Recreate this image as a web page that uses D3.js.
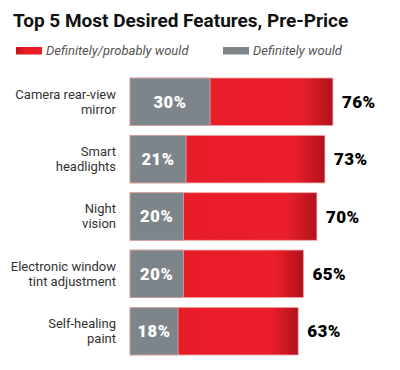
<!DOCTYPE html>
<html>
<head>
<meta charset="utf-8">
<script src="https://cdn.jsdelivr.net/npm/d3@7"></script>
<style>
  body { margin: 0; background: #fff; }
  svg { display: block; font-family: Roboto, "Noto Sans", sans-serif; }
</style>
</head>
<body>
<svg id="chart" width="400" height="370"></svg>
<script>
// data
const features = [
  ["Camera rear-view", "mirror"],
  ["Smart", "headlights"],
  ["Night", "vision"],
  ["Electronic window", "tint adjustment"],
  ["Self-healing", "paint"]
];
const probablyWould = [76, 73, 70, 65, 63];
const definitelyWould = [30, 21, 20, 20, 18];
const legendLabels = ["Definitely/probably would", "Definitely would"];

const svg = d3.select("#chart");
const defs = svg.append("defs");

const grad = defs.append("linearGradient").attr("id", "redGrad")
  .attr("x1", "0%").attr("x2", "100%").attr("y1", "0%").attr("y2", "0%");
grad.append("stop").attr("offset", "0%").attr("stop-color", "#e81b27");
grad.append("stop").attr("offset", "84%").attr("stop-color", "#ea1f2a");
grad.append("stop").attr("offset", "100%").attr("stop-color", "#b0121c");

const legGrad = defs.append("linearGradient").attr("id", "legGrad")
  .attr("x1", "0%").attr("x2", "100%");
legGrad.append("stop").attr("offset", "0%").attr("stop-color", "#c0141f");
legGrad.append("stop").attr("offset", "40%").attr("stop-color", "#ec1c27");
legGrad.append("stop").attr("offset", "100%").attr("stop-color", "#ec1c27");

const gray = "#7d858a";

// title
svg.append("text")
  .attr("x", 13).attr("y", 27)
  .attr("font-size", 19).attr("font-weight", "bold")
  .attr("fill", "#111")
  .text("Top 5 Most Desired Features, Pre-Price");

// legend
const legend = svg.selectAll("g.leg")
  .data(legendLabels)
  .enter().append("g")
  .attr("class", "leg")
  .attr("transform", (d, i) => "translate(" + (i === 0 ? 16 : 223) + ",47)");
legend.append("rect")
  .attr("width", 26).attr("height", 7.5)
  .attr("fill", (d, i) => i === 0 ? "url(#legGrad)" : gray);
legend.append("text")
  .attr("x", 30).attr("y", 8)
  .attr("font-size", 13).attr("font-style", "italic")
  .attr("fill", "#555")
  .text(d => d);

// scales
const x = d3.scaleLinear().domain([0, 100]).range([130, 397]);
const y = d3.scaleBand()
  .domain(d3.range(features.length))
  .range([78, 355])
  .paddingInner(0.17)
  .paddingOuter(0);

const rows = svg.selectAll("g.row")
  .data(features)
  .enter().append("g")
  .attr("class", "row");

rows.append("rect")
  .attr("x", x(0))
  .attr("y", (d, i) => y(i))
  .attr("width", (d, i) => x(probablyWould[i]) - x(0))
  .attr("height", y.bandwidth())
  .attr("fill", "url(#redGrad)")
  .attr("stroke", "#f0a8a8").attr("stroke-width", 0.8);

rows.append("rect")
  .attr("x", x(0))
  .attr("y", (d, i) => y(i))
  .attr("width", (d, i) => x(definitelyWould[i]) - x(0))
  .attr("height", y.bandwidth())
  .attr("fill", gray)
  .attr("stroke", "#d9a9a6").attr("stroke-width", 0.8);

rows.append("text")
  .attr("x", (d, i) => (x(0) + x(definitelyWould[i])) / 2)
  .attr("y", (d, i) => y(i) + y.bandwidth() / 2)
  .attr("dy", "0.36em")
  .attr("text-anchor", "middle")
  .attr("font-size", 16.5).attr("font-weight", 900)
  .attr("letter-spacing", 0.6)
  .attr("fill", "#fff")
  .text((d, i) => definitelyWould[i] + "%");

rows.append("text")
  .attr("x", (d, i) => x(probablyWould[i]) + 9)
  .attr("y", (d, i) => y(i) + y.bandwidth() / 2)
  .attr("dy", "0.36em")
  .attr("font-size", 17).attr("font-weight", 900)
  .attr("letter-spacing", 0.4)
  .attr("fill", "#000")
  .text((d, i) => probablyWould[i] + "%");

rows.append("text")
  .attr("x", 116)
  .attr("y", (d, i) => y(i) + y.bandwidth() / 2)
  .attr("text-anchor", "end")
  .attr("font-size", 13)
  .attr("fill", "#333")
  .selectAll("tspan")
  .data(d => d)
  .enter().append("tspan")
  .attr("x", 116)
  .attr("dy", (d, j) => j === 0 ? "-0.25em" : "1.15em")
  .text(d => d);
</script>
</body>
</html>
